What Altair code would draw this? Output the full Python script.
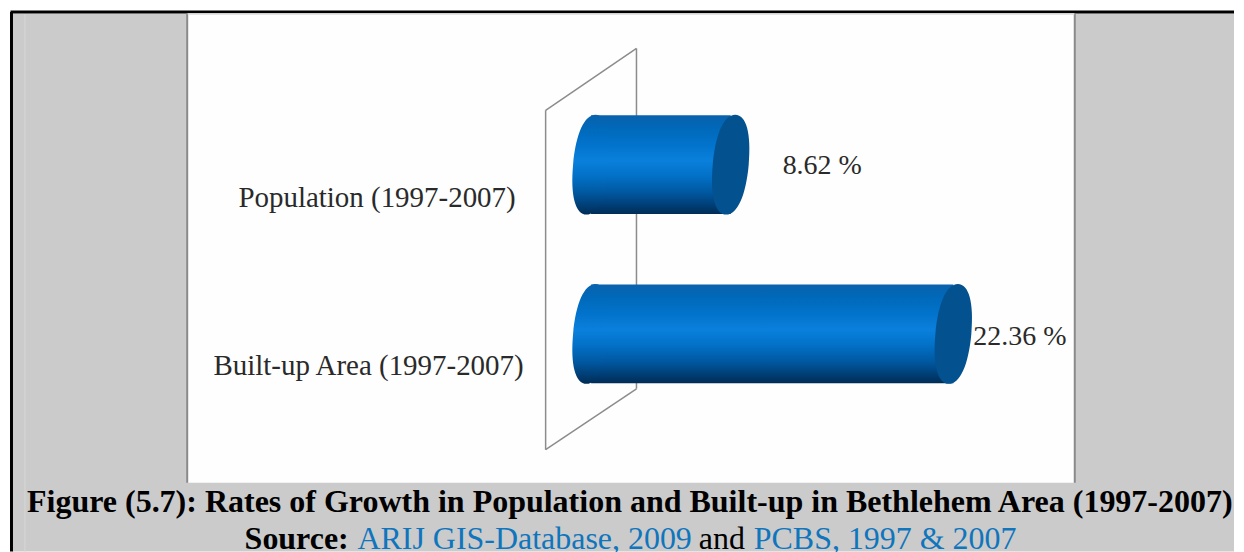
import altair as alt
import pandas as pd

categories = ["Population (1997-2007)", "Built-up Area (1997-2007)"]
growth = [8.62, 22.36]
value_labels = ["8.62 %", "22.36 %"]

W, H = 1228, 544
SERIF = "Liberation Serif"

df = pd.DataFrame({"category": categories, "value": growth, "label": value_labels})
data = alt.Data(values=df.to_dict("records"))

x_scale = alt.Scale(domain=[0, 25], range=[584, 584 + 25 * 16.23])
y_scale = alt.Scale(type="point", domain=categories, range=[156.5, 326], padding=0)
X = alt.X("value:Q", scale=x_scale, axis=None)
Y = alt.Y("category:N", scale=y_scale, axis=None)


def stop(offset, color):
    return alt.GradientStop(offset=offset, color=color)


body_fill = alt.LinearGradient(
    gradient="linear", x1=0, x2=0, y1=0, y2=1,
    stops=[
        stop(0, "#0a62ad"), stop(0.12, "#0068b8"), stop(0.3, "#0273cc"),
        stop(0.46, "#0a80dc"), stop(0.62, "#0270c6"), stop(0.78, "#0058a0"),
        stop(0.92, "#003c72"), stop(1, "#002c55"),
    ],
)


def ellipse_path(rx=0.36, shear=0.09):
    k = 0.62
    pts = [(0, -1), (k * rx, -1), (rx, -k), (rx, 0), (rx, k), (k * rx, 1), (0, 1),
           (-k * rx, 1), (-rx, k), (-rx, 0), (-rx, -k), (-k * rx, -1), (0, -1)]
    p = [(round(a - shear * b, 4), round(b, 4)) for a, b in pts]
    s = f"M{p[0][0]},{p[0][1]}"
    for i in range(1, 13, 3):
        s += "C" + " ".join(f"{a},{b}" for a, b in p[i:i + 3])
    return s + "Z"


CAP = ellipse_path()
CAP_SIZE = 100 ** 2


def box(x, x2, y, y2, color):
    return alt.Chart(data).transform_filter("datum.value < 10").mark_rect(color=color).encode(
        x=alt.value(x), x2=alt.value(x2), y=alt.value(y), y2=alt.value(y2))


def seg(x, y, x2, y2, color="#8c8c8c", w=1.5):
    return alt.Chart(data).transform_filter("datum.value < 10").mark_rule(color=color, strokeWidth=w).encode(
        x=alt.value(x), y=alt.value(y), x2=alt.value(x2), y2=alt.value(y2))


def note(text, x, y, size=32, color="#000000", weight="normal", align="left"):
    return alt.Chart(alt.Data(values=[{"t": text}])).mark_text(
        font=SERIF, fontSize=size, color=color, fontWeight=weight, align=align, baseline="alphabetic",
    ).encode(x=alt.value(x), y=alt.value(y), text="t:N")


background = [
    box(0, W, 0, H, "#ffffff"),
    box(4, W, 5, H, "#cbcbcb"),
    seg(17, 5, 17, H, "#d8d8d8", 1),
    seg(2.5, 3.5, W, 3.5, "#000000", 3),
    seg(3.5, 3.5, 3.5, H, "#000000", 3),
    box(180, 1068, 5, 475, "#fefefe"),
    seg(179.5, 5, 179.5, 475, "#8a8a8a", 2),
    seg(1068.5, 5, 1068.5, 475, "#8a8a8a", 2),
    seg(180, 5.5, 1068, 5.5, "#dddddd", 1.5),
]

wall = [
    seg(538.5, 102, 629.5, 40),
    seg(538.5, 102, 538.5, 442),
    seg(629.5, 40, 629.5, 381),
    seg(538.5, 442, 629.5, 381),
]

base = alt.Chart(data)
left_cap = base.mark_point(filled=True, fill=body_fill, shape=CAP, size=CAP_SIZE, opacity=1, strokeWidth=0).encode(
    x=alt.X("zero:Q", scale=x_scale, axis=None), y=Y).transform_calculate(zero="0")
body = base.mark_bar(fill=body_fill, size=99).encode(x=X, x2=alt.datum(0), y=Y)
end_cap = base.mark_point(filled=True, fill="#04518f", shape=CAP, size=CAP_SIZE, opacity=1, strokeWidth=0).encode(x=X, y=Y)


def cat_label(i, x, y):
    return alt.Chart(alt.Data(values=[df.to_dict("records")[i]])).mark_text(
        font=SERIF, fontSize=29, color="#2a2a2a", align="right", baseline="alphabetic",
    ).encode(x=alt.value(x), y=alt.value(y), text="category:N")


def val_label(i, dx, dy):
    return alt.Chart(alt.Data(values=[df.to_dict("records")[i]])).mark_text(
        font=SERIF, fontSize=28, color="#2a2a2a", align="left", baseline="alphabetic", dx=dx, dy=dy,
    ).encode(x=X, y=Y, text="label:N")


texts = [
    cat_label(0, 508.5, 199),
    cat_label(1, 516.5, 367),
    val_label(0, 52, 9),
    val_label(1, 20, 11),
    note("Figure (5.7): Rates of Growth in Population and Built-up in Bethlehem Area (1997-2007)", 19, 504, size=32.05, weight="bold"),
    note("Source:", 237, 541, weight="bold"),
    note("ARIJ GIS-Database, 2009", 350, 541, color="#0f75bd"),
    note("and", 692, 541),
    note("PCBS, 1997 & 2007", 747, 541, color="#0f75bd"),
]

chart = alt.layer(*background, *wall, body, left_cap, end_cap, *texts).properties(
    width=W, height=H, padding=0, background="#ffffff"
).configure_view(stroke=None)

chart.save("out.html", embed_options={"renderer": "svg", "actions": False})
